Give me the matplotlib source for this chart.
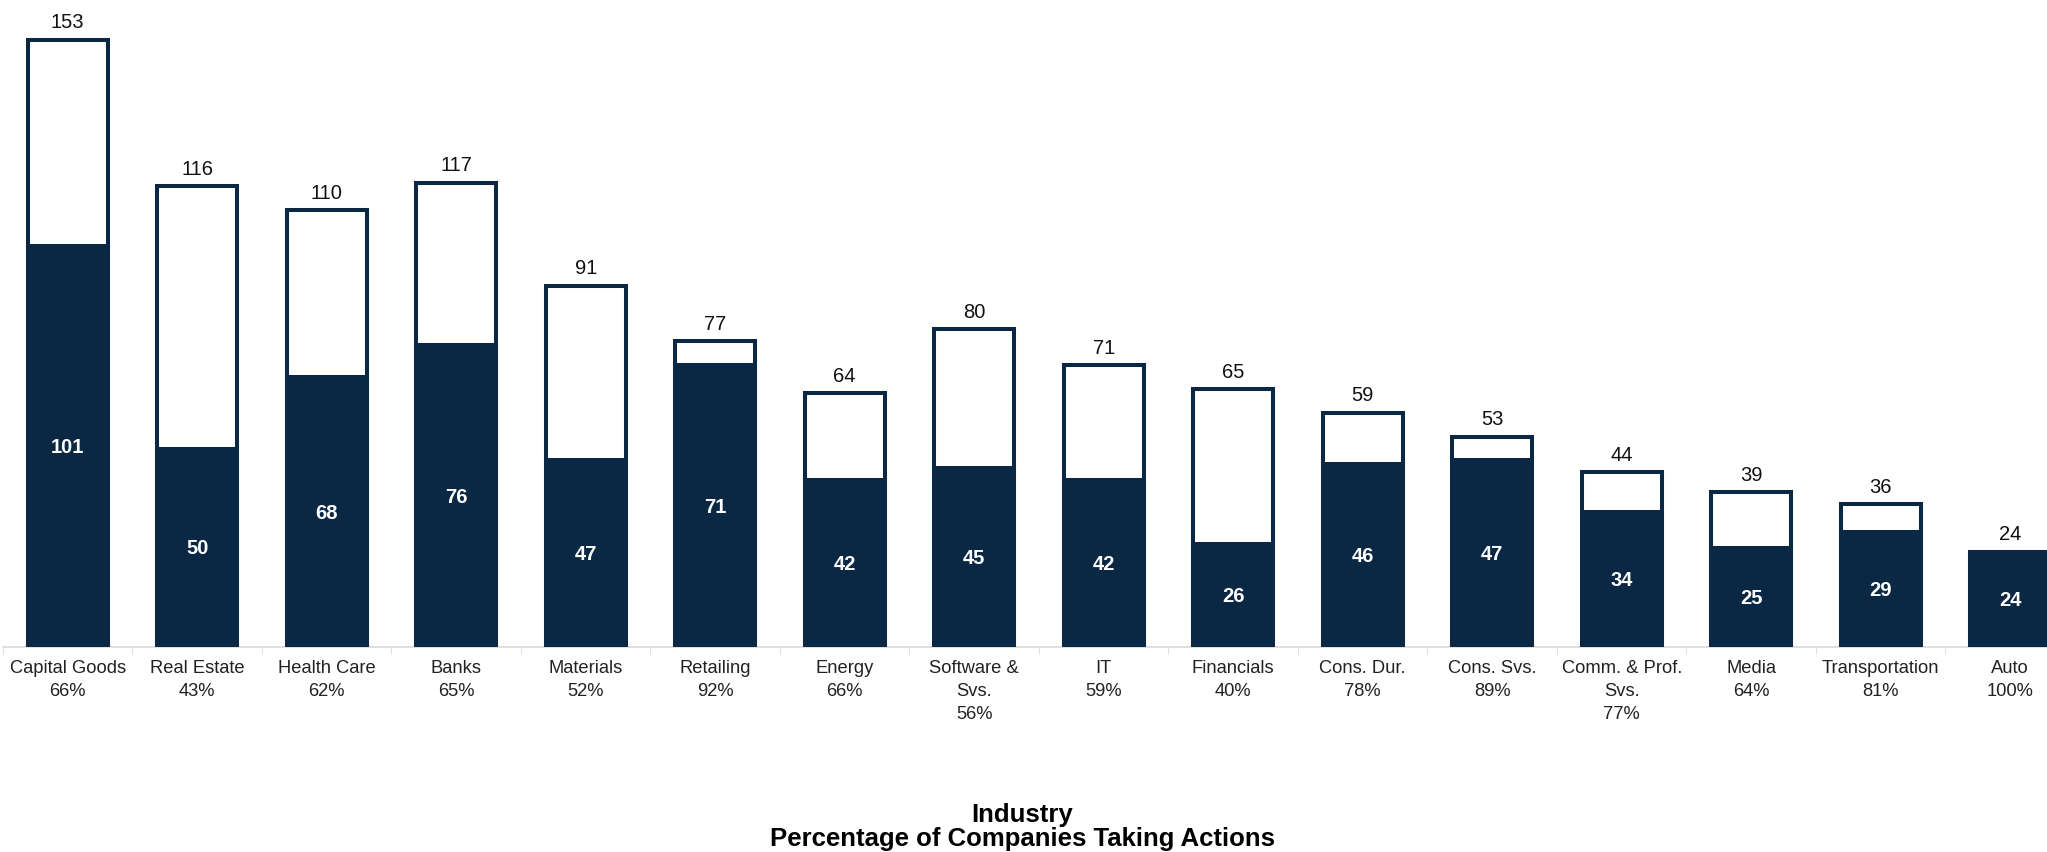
import numpy as np
import matplotlib.pyplot as plt

plt.rcParams['font.family'] = ['Liberation Sans', 'DejaVu Sans']

# data
categories = ["Capital Goods", "Real Estate", "Health Care", "Banks", "Materials",
              "Retailing", "Energy", "Software &\nSvs.", "IT", "Financials",
              "Cons. Dur.", "Cons. Svs.", "Comm. & Prof.\nSvs.", "Media",
              "Transportation", "Auto"]
totals = [153, 116, 110, 117, 91, 77, 64, 80, 71, 65, 59, 53, 44, 39, 36, 24]
acting = [101, 50, 68, 76, 47, 71, 42, 45, 42, 26, 46, 47, 34, 25, 29, 24]
pct = [66, 43, 62, 65, 52, 92, 66, 56, 59, 40, 78, 89, 77, 64, 81, 100]

navy = '#0a2844'
W, H = 2047, 853
fig = plt.figure(figsize=(W / 100, H / 100), dpi=100)
# axes run a bit past the right edge, like the original (Auto bar is clipped)
step = 129.5
ax = fig.add_axes([3 / W, (H - 648) / H, 16 * step / W, 160 * 3.97 / H])

x = np.arange(len(categories))
bw = 0.62
ax.bar(x, totals, width=bw, color='white', edgecolor=navy, linewidth=2.9, zorder=2)
ax.bar(x, acting, width=bw, color=navy, edgecolor=navy, linewidth=2.9, zorder=3)

for xi, t, a in zip(x, totals, acting):
    ax.annotate(str(t), (xi, t), xytext=(0, 6), textcoords='offset points',
                ha='center', va='bottom', fontsize=14.5, color='#111111')
    ax.text(xi, a / 2, str(a), ha='center', va='center', fontsize=14.5,
            color='white', fontweight='bold', zorder=4)

ax.set_xlim(-0.5, len(categories) - 0.5)
ax.set_ylim(0, 160)
ax.set_xticks(x)
ax.set_xticklabels([f"{c}\n{p}%" for c, p in zip(categories, pct)],
                   fontsize=13.2, color='#222222', linespacing=1.45)
ax.tick_params(axis='x', which='major', length=0, pad=9)
ax.set_xticks(np.arange(-0.5, len(categories)), minor=True)
ax.tick_params(axis='x', which='minor', length=5, color='#d9d9d9')
ax.set_yticks([])
for s in ['top', 'right', 'left']:
    ax.spines[s].set_visible(False)
ax.spines['bottom'].set_color('#d9d9d9')
ax.spines['bottom'].set_linewidth(1.2)

fig.text(1022 / W, 1 - 815 / H, "Industry", ha='center', va='center',
         fontsize=18.5, fontweight='bold')
fig.text(1022 / W, 1 - 839 / H, "Percentage of Companies Taking Actions",
         ha='center', va='center', fontsize=18.5, fontweight='bold')

fig.savefig('out.png', dpi=100)
